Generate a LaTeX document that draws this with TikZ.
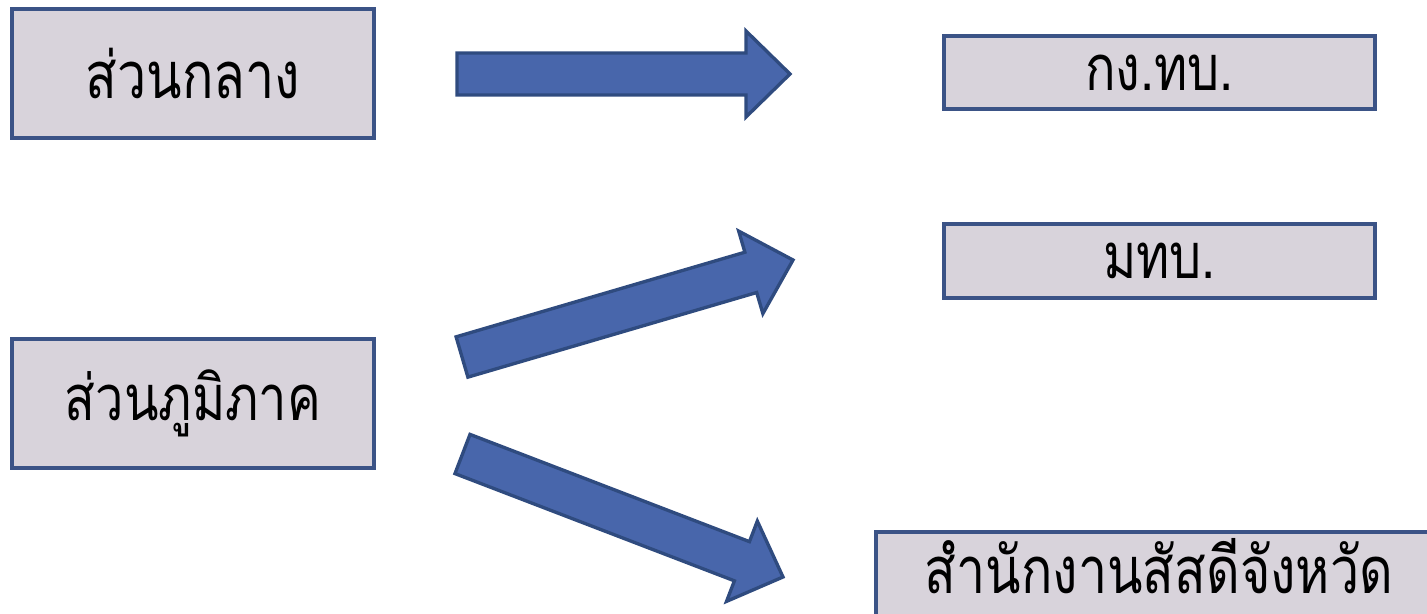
\documentclass[tikz,border=0pt]{standalone}
\usepackage{fontspec}
\newfontfamily\thaifont[Script=Thai,FakeStretch=0.8]{Loma}
\usetikzlibrary{calc}
\definecolor{boxfill}{HTML}{D8D3DB}
\definecolor{boxline}{HTML}{3B5386}
\definecolor{arrowfill}{HTML}{4866AB}
\definecolor{arrowline}{HTML}{2F4B7F}
\tikzset{
  unitbox/.style={draw=boxline,fill=boxfill,line width=2.1pt,inner sep=0pt},
  blockarrow/.style={draw=arrowline,fill=arrowfill,line width=1.9pt,line join=miter},
}
% fat arrow from tail #1 to tip #2
\newcommand{\fatarrow}[2]{%
  \coordinate (hb) at ($(#2)!0.88cm!(#1)$);
  \filldraw[blockarrow] ($(#1)!0.42cm!90:(#2)$) -- ($(hb)!0.42cm!90:(#2)$)
    -- ($(hb)!0.86cm!90:(#2)$) -- (#2) -- ($(hb)!0.86cm!-90:(#2)$)
    -- ($(hb)!0.42cm!-90:(#2)$) -- ($(#1)!0.42cm!-90:(#2)$) -- cycle;}
\begin{document}
\begin{tikzpicture}[x=0.02cm,y=-0.02cm]
\useasboundingbox (0,0) rectangle (1427,614);
% left side
\node[unitbox,minimum width=7.23cm,minimum height=2.58cm,font=\thaifont\fontsize{37}{44}\selectfont] (central) at (193,73.5) {ส่วนกลาง};
\node[unitbox,minimum width=7.23cm,minimum height=2.58cm,font=\thaifont\fontsize{36}{44}\selectfont] (regional) at (193,403.5) {ส่วนภูมิภาค};
% right side
\node[unitbox,minimum width=8.62cm,minimum height=1.46cm,font=\thaifont\fontsize{36}{44}\selectfont] (army) at (1159.5,72.5) {กง.ทบ.};
\node[unitbox,minimum width=8.62cm,minimum height=1.48cm,font=\thaifont\fontsize{36}{44}\selectfont] (mtb) at (1159.5,261) {มทบ.};
\node[unitbox,minimum width=11.4cm,minimum height=1.9cm,anchor=north west] (office) at (874,530) {};
\node[inner sep=0pt,font=\thaifont\fontsize{37}{44}\selectfont] (officetext) at (1159,566) {สำนักงานสัสดีจังหวัด};
% arrows
\coordinate (a1) at (457,74);   \coordinate (b1) at (790,74);
\coordinate (a2) at (462,357);  \coordinate (b2) at (793,260);
\coordinate (a3) at (462.5,454);\coordinate (b3) at (783,577);
\fatarrow{a1}{b1}
\fatarrow{a2}{b2}
\fatarrow{a3}{b3}
\end{tikzpicture}
\end{document}
